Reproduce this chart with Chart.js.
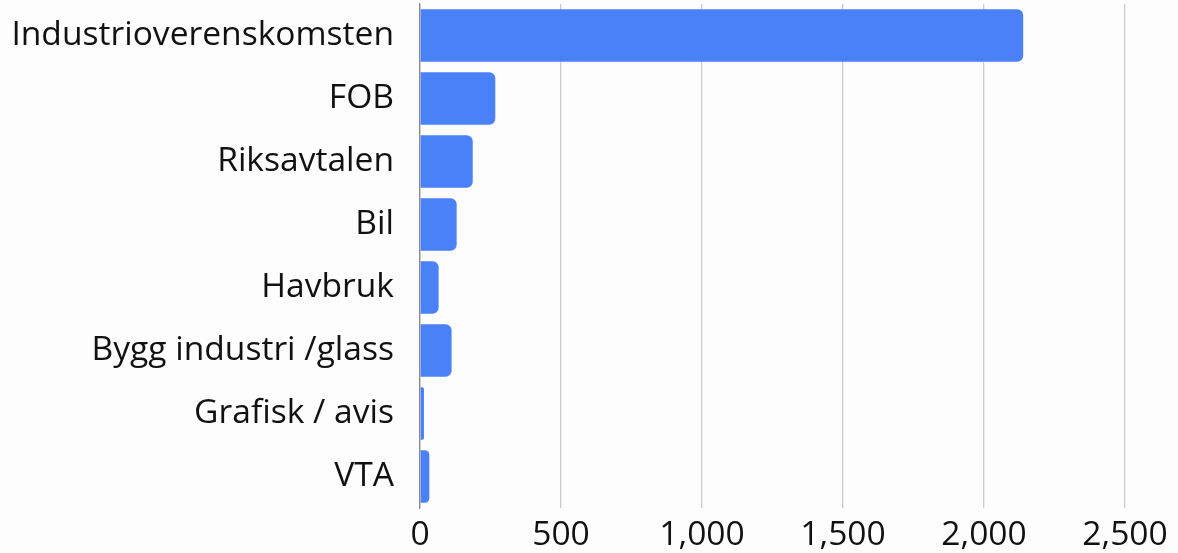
<!DOCTYPE html>
<html>
<head>
<meta charset="utf-8">
<script src="https://cdn.jsdelivr.net/npm/chart.js@4"></script>
<style>
  html, body { margin: 0; padding: 0; background: #fdfdfd; }
  #wrap { width: 1178px; height: 553px; }
</style>
</head>
<body>
<div id="wrap"><canvas id="chart"></canvas></div>
<script>
// data
const categories = ["Industrioverenskomsten", "FOB", "Riksavtalen", "Bil", "Havbruk", "Bygg industri /glass", "Grafisk / avis", "VTA"];
const values = [2139, 267, 187, 130, 66, 112, 14, 33];
const xTicks = [0, 500, 1000, 1500, 2000, 2500];

const ctx = document.getElementById("chart");

new Chart(ctx, {
  type: "bar",
  data: {
    labels: categories,
    datasets: [{
      data: values,
      backgroundColor: "#4a80f8",
      borderRadius: 6,
      borderSkipped: "start",
      categoryPercentage: 1,
      barPercentage: 0.83
    }]
  },
  options: {
    indexAxis: "y",
    responsive: true,
    maintainAspectRatio: false,
    animation: false,
    layout: { padding: { left: 10, right: 53, top: 4, bottom: 0 } },
    plugins: {
      legend: { display: false },
      tooltip: { enabled: false }
    },
    scales: {
      x: {
        min: xTicks[0],
        max: xTicks[xTicks.length - 1],
        afterBuildTicks: axis => { axis.ticks = xTicks.map(v => ({ value: v })); },
        afterFit: axis => {
          axis.paddingLeft = 0;
          axis.paddingRight = 0;
          axis.height = 45;
        },
        grid: { color: "#cccccc", lineWidth: 1.3, drawTicks: false },
        border: { display: false },
        ticks: {
          padding: 7,
          color: "#111",
          font: { family: "'Open Sans'", size: 33.6 }
        }
      },
      y: {
        grid: { display: false, drawTicks: false },
        border: { display: true, color: "#888", width: 1.3 },
        afterFit: axis => {
          axis.width = 410;
          axis.paddingTop = 0;
          axis.paddingBottom = 0;
        },
        ticks: {
          padding: 26,
          color: "#111",
          font: { family: "'Open Sans'", size: 33.6 }
        }
      }
    }
  }
});
</script>
</body>
</html>
